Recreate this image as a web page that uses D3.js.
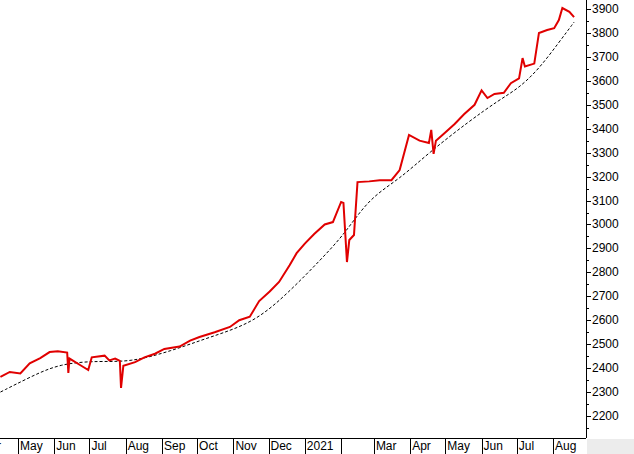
<!DOCTYPE html>
<html><head><meta charset="utf-8">
<script src="https://cdn.jsdelivr.net/npm/d3@7"></script>
<style>body{margin:0;background:#fff}text{font-family:"Liberation Sans",Arial,sans-serif;font-size:12px;fill:#000}</style>
</head><body>
<script>
// price series
const priceDates = ["2020-04-16","2020-04-24","2020-05-03","2020-05-11","2020-05-20","2020-05-28","2020-06-04","2020-06-12","2020-06-13","2020-06-14","2020-06-23","2020-06-30","2020-07-03","2020-07-14","2020-07-18","2020-07-23","2020-07-27","2020-07-28","2020-07-30","2020-08-09","2020-08-17","2020-08-26","2020-09-03","2020-09-16","2020-09-25","2020-10-03","2020-10-16","2020-10-29","2020-11-06","2020-11-15","2020-11-23","2020-12-02","2020-12-10","2020-12-19","2020-12-25","2021-01-01","2021-01-09","2021-01-18","2021-01-25","2021-02-01","2021-02-03","2021-02-06","2021-02-08","2021-02-12","2021-02-15","2021-02-25","2021-03-06","2021-03-16","2021-03-23","2021-03-31","2021-04-09","2021-04-17","2021-04-19","2021-04-21","2021-04-23","2021-04-30","2021-05-09","2021-05-17","2021-05-26","2021-06-01","2021-06-06","2021-06-12","2021-06-20","2021-06-26","2021-07-03","2021-07-06","2021-07-08","2021-07-16","2021-07-20","2021-07-27","2021-08-02","2021-08-06","2021-08-09","2021-08-15","2021-08-19"];
const priceValues = [2363,2384,2378,2420,2442,2467,2470,2465,2380,2440,2413,2392,2445,2452,2432,2440,2430,2317,2410,2425,2445,2460,2480,2490,2515,2530,2550,2572,2600,2615,2680,2720,2760,2830,2880,2920,2960,3000,3010,3094,3090,2843,2935,2956,3177,3180,3185,3185,3227,3374,3350,3340,3395,3295,3350,3380,3420,3460,3500,3560,3528,3545,3550,3590,3610,3695,3660,3672,3800,3812,3820,3854,3904,3888,3866];
// moving average (dashed)
const maDates = ["2020-04-16","2020-05-11","2020-06-06","2020-07-10","2020-08-05","2020-09-08","2020-10-12","2020-11-19","2020-12-19","2021-01-14","2021-02-04","2021-02-25","2021-03-23","2021-04-17","2021-05-21","2021-06-16","2021-07-03","2021-07-20","2021-08-06","2021-08-19"];
const maValues = [2300,2362,2420,2430,2425,2470,2530,2590,2720,2850,2960,3110,3190,3300,3430,3520,3570,3650,3760,3845];
const yTicks = [2200,2300,2400,2500,2600,2700,2800,2900,3000,3100,3200,3300,3400,3500,3600,3700,3800,3900];
const monthLabels = ["May","Jun","Jul","Aug","Sep","Oct","Nov","Dec","2021","","Mar","Apr","May","Jun","Jul","Aug"];

const W = 634, H = 454, axisX = 586, axisY = 438;
const parse = d3.timeParse("%Y-%m-%d");
const x = d3.scaleTime().domain([parse("2020-05-01"), parse("2021-08-01")]).range([18, 553]);
const y = d3.scaleLinear().domain([2200, 3900]).range([416, 9]);

const svg = d3.select("body").append("svg").attr("width", W).attr("height", H);
const plot = svg.append("g");
plot.append("clipPath").attr("id", "c").append("rect").attr("width", axisX).attr("height", axisY);

const price = priceDates.map((d, i) => [parse(d), priceValues[i]]);
const ma = maDates.map((d, i) => [parse(d), maValues[i]]);

plot.append("path").attr("clip-path", "url(#c)")
  .attr("d", d3.line().x(d => x(d[0])).y(d => y(d[1])).curve(d3.curveBasis)(ma))
  .attr("fill", "none").attr("stroke", "#000").attr("stroke-width", 1).attr("stroke-dasharray", "3,2");
plot.append("path").attr("clip-path", "url(#c)")
  .attr("d", d3.line().x(d => x(d[0])).y(d => y(d[1]))(price))
  .attr("fill", "none").attr("stroke", "#e00000").attr("stroke-width", 2);

// right axis
const minor = d3.range(2150, 3951, 50);
svg.append("line").attr("x1", axisX + .5).attr("x2", axisX + .5).attr("y1", 0).attr("y2", axisY).attr("stroke", "#000");
svg.selectAll(".mt").data(minor).join("line")
  .attr("x1", axisX).attr("x2", d => axisX + (d % 100 === 0 ? 5 : 3))
  .attr("y1", d => Math.round(y(d)) + .5).attr("y2", d => Math.round(y(d)) + .5).attr("stroke", "#000");
svg.selectAll(".yl").data(yTicks).join("text")
  .attr("x", axisX + 6).attr("y", d => y(d) + 4).text(d => d);

// bottom axis
svg.append("rect").attr("x", axisX + 1).attr("y", axisY + 1).attr("width", W - axisX).attr("height", H - axisY).attr("fill", "#ececec");
svg.append("line").attr("x1", 0).attr("x2", axisX).attr("y1", axisY + .5).attr("y2", axisY + .5).attr("stroke", "#000");
const months = x.ticks(d3.timeMonth.every(1)).filter(d => d >= parse("2020-05-01"));
svg.selectAll(".xt").data(months).join("line")
  .attr("x1", d => Math.round(x(d)) + .5).attr("x2", d => Math.round(x(d)) + .5)
  .attr("y1", axisY).attr("y2", H).attr("stroke", "#000");
svg.selectAll(".xl").data(months).join("text")
  .attr("x", d => x(d) + 2).attr("y", 450).text((d, i) => monthLabels[i] || "");
svg.append("text").attr("x", -3).attr("y", 450).text("r");
</script>
</body></html>
